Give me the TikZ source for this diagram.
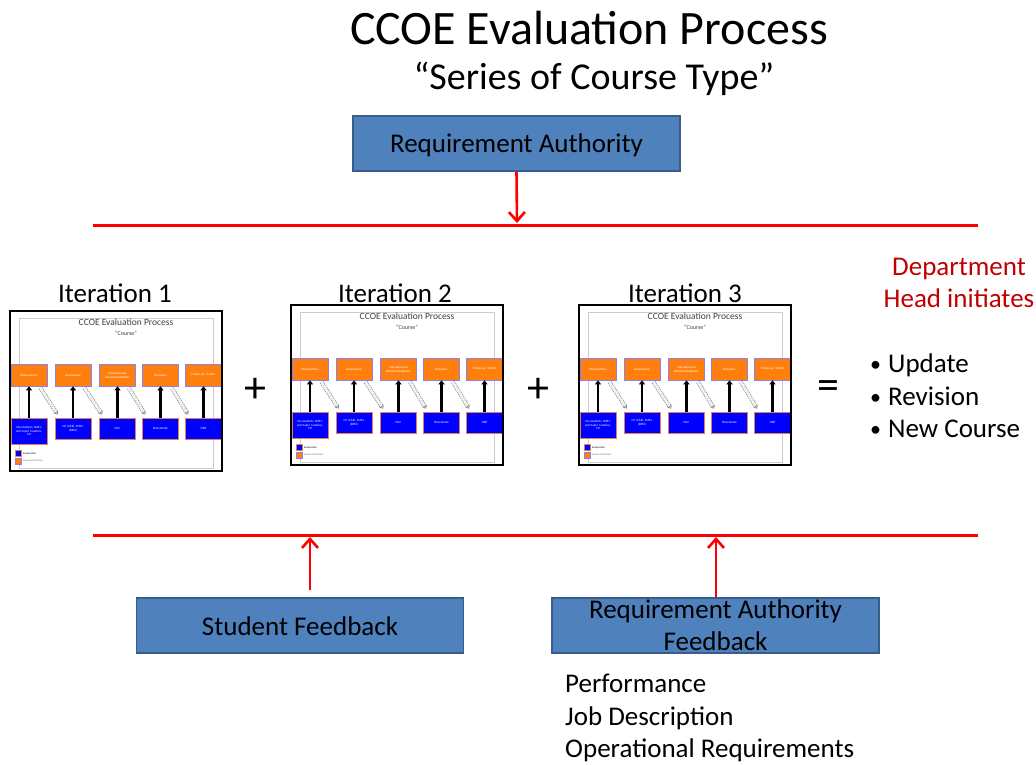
\documentclass[tikz,border=0pt]{standalone}
\usepackage{fontspec}
\setmainfont{Carlito}
\usetikzlibrary{arrows.meta,calc}
\definecolor{boxblue}{HTML}{4F81BD}
\definecolor{boxedge}{HTML}{385D8A}
\definecolor{deptred}{HTML}{C00000}
\definecolor{thorange}{HTML}{FF7F0E}
\definecolor{thorangeedge}{HTML}{8F7FF0}
\definecolor{thblue}{HTML}{0000FF}
\definecolor{thblueedge}{HTML}{E48050}
\newcommand{\fs}[1]{\fontsize{#1}{1.2\dimexpr #1pt\relax}\selectfont}
\tikzset{
  bluebox/.style={draw=boxedge, line width=1.6pt, fill=boxblue, minimum width=327pt, minimum height=55pt, inner sep=0pt},
  boxtext/.style={font=\fs{27}, text=black, inner sep=0pt, anchor=base},
  plain/.style={font=\fs{27}, text=black, inner sep=0pt, anchor=base west},
  redline/.style={draw=red, line width=3pt},
  redarrow/.style={draw=red, line width=2.6pt, -{Straight Barb[length=9pt,width=16pt,line width=2.6pt]}},
  orbox/.style={draw=thorangeedge, line width=0.7pt, fill=thorange, minimum width=36pt, minimum height=22pt, inner sep=0pt, font=\fs{3.2}, text=white, align=center},
  blbox/.style={draw=thblueedge, line width=0.7pt, fill=thblue, minimum width=36pt, minimum height=21pt, inner sep=0pt, font=\fs{3.2}, text=white, align=center},
  uparrow/.style={line width=2.2pt, -{Triangle[length=4pt,width=6pt]}},
  dasharrow/.style={draw=gray!90, line width=0.7pt, double=white, double distance=2.6pt, dash pattern=on 1.6pt off 0.9pt, -{Triangle[open,length=3pt,width=5pt]}},
  sign/.style={font=\fs{44}, inner sep=0pt},
}
\newcommand{\thumbnail}[2]{%
\begin{scope}[shift={(#1)}]
  \draw[gray!40, line width=0.6pt] (9,7) rectangle (203,157);
  \node[font=\fs{9.5}, text=black!75, inner sep=0pt] (#2title) at (116,11) {CCOE Evaluation Process};
  \node[font=\fs{6}, text=black!75, inner sep=0pt] (#2sub) at (116,22) {“Course”};
  \node[orbox] (#2o1) at (19,64) {Observations};
  \node[orbox] (#2o2) at (63,64) {Assessment};
  \node[orbox] (#2o3) at (107.5,64) {Conclusions \&\\Recommendations};
  \node[orbox] (#2o4) at (150.5,64) {Decisions};
  \node[orbox] (#2o5) at (193.5,64) {Follow up / Action};
  \node[blbox, minimum height=26pt] (#2b1) at (19,120) {Stu students, SME's\\and Supvl. Coaches,\\CO};
  \node[blbox] (#2b2) at (63,117.5) {CO (T\&E), SME's\\(BSM)};
  \node[blbox] (#2b3) at (107.5,117.5) {P\&C};
  \node[blbox] (#2b4) at (150.5,117.5) {Directorate};
  \node[blbox] (#2b5) at (193.5,117.5) {OPR};
  \foreach \i in {1,...,5}{\draw[uparrow] (#2b\i.north) -- (#2o\i.south);}
  \foreach \i/\j in {1/2,2/3,3/4,4/5}{\draw[dasharrow] ($(#2o\i.south east)+(-7,1.5)$) -- ($(#2b\j.north west)+(3,-3)$);}
  \node[draw=thblueedge, fill=thblue, minimum size=6pt, inner sep=0pt] (#2lb) at (8,142.5) {};
  \node[draw=thorangeedge, fill=thorange, minimum size=6pt, inner sep=0pt] (#2lo) at (8,150) {};
  \node[font=\fs{2.6}, anchor=west, inner sep=0pt] (#2lbt) at (13,142.5) {Responsible};
  \node[font=\fs{2.6}, anchor=west, inner sep=0pt, text=black!60] (#2lot) at (13,150) {Source of Decision};
  \draw[black, line width=2pt] (0,0) rectangle (212,160);
\end{scope}}
\begin{document}
\begin{tikzpicture}[x=1pt,y=-1pt]
\useasboundingbox (0,0) rectangle (1036,765);
% titles
\node[font=\fs{48}, inner sep=0pt, anchor=base] (title) at (589,45) {CCOE Evaluation Process};
\node[font=\fs{38}, inner sep=0pt, anchor=base] (subtitle) at (594,90) {“Series of Course Type”};
% requirement authority
\node[bluebox] (ra) at (516.5,143.5) {};
\node[boxtext] (ratext) at (516.5,153) {Requirement Authority};
\coordinate (l1L) at (93,225);
\coordinate (l1R) at (978,225);
\coordinate (l1a) at (517,223);
\draw[redline] (l1L) -- (l1R);
\draw[redarrow] (ra.south) -- (l1a);
% iterations
\node[boxtext] (it1) at (115,302) {Iteration 1};
\node[boxtext] (it2) at (395,302) {Iteration 2};
\node[boxtext] (it3) at (685,302) {Iteration 3};
\thumbnail{10,311}{ta}
\thumbnail{291,305}{tb}
\thumbnail{579,305}{tc}
\node[sign] (plus1) at (255,390) {+};
\node[sign] (plus2) at (538,390) {+};
\node[sign] (eq) at (828,390) {=};
% department head
\node[font=\fs{27}, text=deptred, inner sep=0pt, anchor=base] (dep1) at (959,275) {Department};
\node[font=\fs{27}, text=deptred, inner sep=0pt, anchor=base] (dep2) at (959,307) {Head initiates};
\node[plain] (bu1) at (870,372) {\makebox[18pt][l]{\raisebox{1pt}{\fs{22}•}}Update};
\node[plain] (bu2) at (870,405) {\makebox[18pt][l]{\raisebox{1pt}{\fs{22}•}}Revision};
\node[plain] (bu3) at (870,437) {\makebox[18pt][l]{\raisebox{1pt}{\fs{22}•}}New Course};
% bottom line
\coordinate (l2L) at (93,535);
\coordinate (l2R) at (978,535);
\coordinate (l2a) at (310,537);
\coordinate (l2b) at (716,537);
\draw[redline] (l2L) -- (l2R);
\node[bluebox] (sf) at (300,625.5) {};
\node[boxtext] (sftext) at (300,635) {Student Feedback};
\node[bluebox] (raf) at (715.5,625.5) {};
\node[boxtext] (raftext1) at (715.5,618) {Requirement Authority};
\node[boxtext] (raftext2) at (715.5,650) {Feedback};
\coordinate (sfa) at (310,590);
\coordinate (rafa) at (716,597);
\draw[redarrow] (sfa) -- (l2a);
\draw[redarrow] (rafa) -- (l2b);
\node[plain] (p1) at (565,692) {Performance};
\node[plain] (p2) at (565,725) {Job Description};
\node[plain] (p3) at (565,757) {Operational Requirements};
\end{tikzpicture}
\end{document}
